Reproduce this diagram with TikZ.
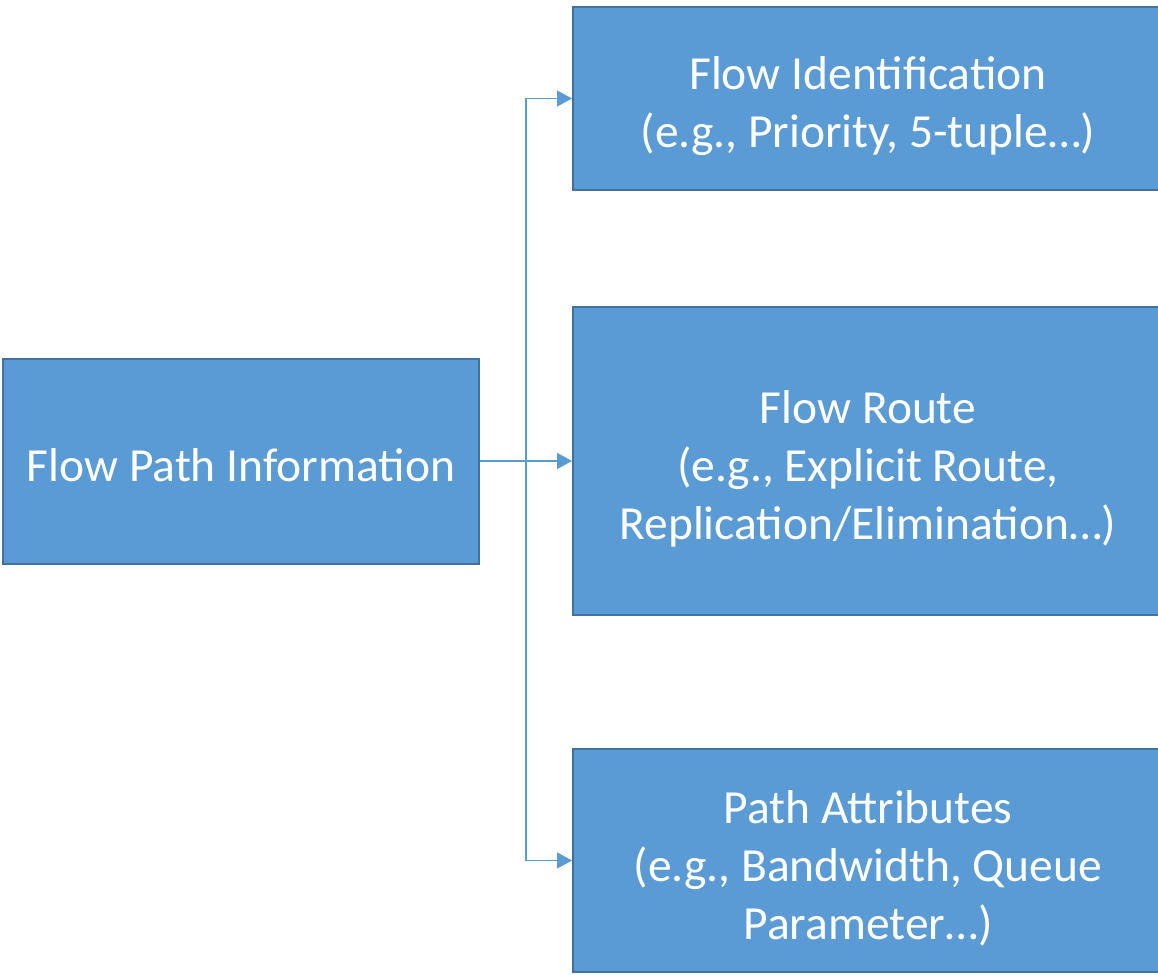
\documentclass[tikz,border=0pt]{standalone}
\usepackage{fontspec}
\setmainfont{Carlito}
\usetikzlibrary{arrows.meta}
\definecolor{boxfill}{HTML}{5B9BD5}
\definecolor{boxline}{HTML}{41719C}
\begin{document}
\begin{tikzpicture}[x=1pt,y=-1pt,
  box/.style={draw=boxline, line width=2pt, fill=boxfill, inner sep=0pt, anchor=center},
  txt/.style={text=white, inner sep=0pt, align=center,
    font=\fontsize{47.5}{58}\selectfont, anchor=center},
  conn/.style={draw=boxfill, line width=1.4pt, -{Triangle[length=15pt,width=16pt]}}]
\useasboundingbox (0,0) rectangle (1158,974);
\node[box, minimum width=476pt, minimum height=205pt] (L) at (241,461) {};
\node[box, minimum width=590pt, minimum height=183pt] (R1) at (868,98.5) {};
\node[box, minimum width=590pt, minimum height=308pt] (R2) at (868,461) {};
\node[box, minimum width=590pt, minimum height=223pt] (R3) at (868,860.5) {};
\node[txt] (Lt) at ([yshift=-4pt]L.center) {Flow Path Information};
\node[txt] (R1t) at ([yshift=-7.5pt]R1.center) {Flow Identification\\(e.g., Priority, 5-tuple…)};
\node[txt] (R2t) at ([yshift=-7.5pt]R2.center) {Flow Route\\(e.g., Explicit Route,\\Replication/Elimination…)};
\node[txt] (R3t) at ([yshift=-8pt]R3.center) {Path Attributes\\(e.g., Bandwidth, Queue\\Parameter…)};
\coordinate (j) at (526,461);
\draw[conn] (L.east) -- (R2.west);
\draw[conn] (j) |- (R1.west);
\draw[conn] (j) |- (R3.west);
\end{tikzpicture}
\end{document}
